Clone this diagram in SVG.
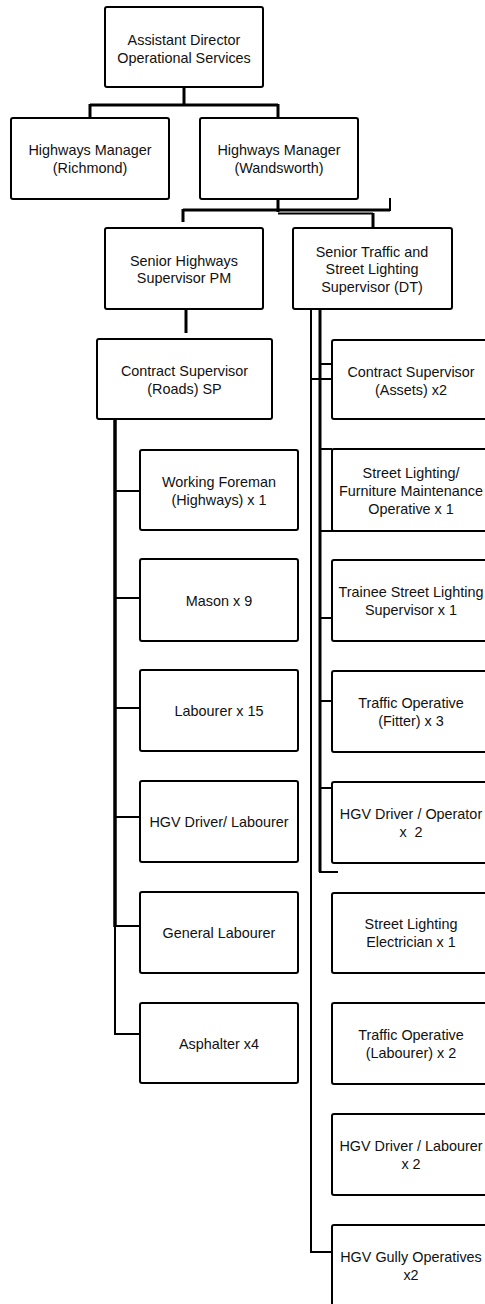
<svg xmlns="http://www.w3.org/2000/svg" width="485" height="1304" viewBox="0 0 485 1304">
<style>
.b{fill:#fff;stroke:#000;stroke-width:2}
.t{font-family:"Liberation Sans",Arial,sans-serif;font-size:14.4px;fill:#111;text-anchor:middle;white-space:pre}
.c{stroke:#000;fill:none;stroke-width:3}
.n{stroke:#000;fill:none;stroke-width:2}
</style>
<rect width="485" height="1304" fill="#fff"/>
<g id="connectors">
<path class="c" d="M184 87V105M90 105H278M90 104V118M278 104V118"/>
<path class="c" d="M278 199V212M183 210H390M183 209V222M373 213V228"/>
<path class="n" d="M390 198V211M278 213.5H373"/>
<path class="c" d="M186 309V333"/>
<path d="M115 419V927" stroke="#000" stroke-width="3.5" fill="none"/>
<path class="n" d="M115 926V1034H140"/>
<path class="n" d="M115 491H140M115 598H140M115 708H140M115 817H140M115 926H140"/>
<path class="n" d="M311 309V1252H332"/>
<path class="c" d="M320 309V872"/>
<path class="n" d="M319 872H338M320 364H332M311 379H332M320 449H332M320 531H334M320 618H332M320 701H332M320 788H332"/>
</g>
<g id="n-ad"><rect class="b" x="105" y="7" width="158" height="80" rx="2"/><text class="t" x="184" y="45">Assistant Director</text><text class="t" x="184" y="63">Operational Services</text></g>
<g id="n-hmr"><rect class="b" x="11" y="118" width="158" height="81" rx="2"/><text class="t" x="90" y="155">Highways Manager</text><text class="t" x="90" y="173">(Richmond)</text></g>
<g id="n-hmw"><rect class="b" x="200" y="118" width="158" height="81" rx="2"/><text class="t" x="279" y="155">Highways Manager</text><text class="t" x="279" y="173">(Wandsworth)</text></g>
<g id="n-shs"><rect class="b" x="105" y="228" width="158" height="81" rx="2"/><text class="t" x="184" y="266">Senior Highways</text><text class="t" x="184" y="283">Supervisor PM</text></g>
<g id="n-sts"><rect class="b" x="293" y="228" width="159" height="81" rx="2"/><text class="t" x="372" y="257">Senior Traffic and</text><text class="t" x="372" y="274">Street Lighting</text><text class="t" x="372" y="292">Supervisor (DT)</text></g>
<g id="n-csr"><rect class="b" x="97" y="339" width="175" height="80" rx="2"/><text class="t" x="184.5" y="376">Contract Supervisor</text><text class="t" x="184.5" y="394">(Roads) SP</text></g>
<g id="n-wf"><rect class="b" x="140" y="450" width="158" height="80" rx="2"/><text class="t" x="219" y="487">Working Foreman</text><text class="t" x="219" y="505">(Highways) x 1</text></g>
<g id="n-mason"><rect class="b" x="140" y="559" width="158" height="82" rx="2"/><text class="t" x="219" y="606">Mason x 9</text></g>
<g id="n-lab"><rect class="b" x="140" y="670" width="158" height="81" rx="2"/><text class="t" x="219" y="716">Labourer x 15</text></g>
<g id="n-hgvl"><rect class="b" x="140" y="781" width="158" height="81" rx="2"/><text class="t" x="219" y="827">HGV Driver/ Labourer</text></g>
<g id="n-gl"><rect class="b" x="140" y="892" width="158" height="81" rx="2"/><text class="t" x="219" y="938">General Labourer</text></g>
<g id="n-asp"><rect class="b" x="140" y="1003" width="158" height="80" rx="2"/><text class="t" x="219" y="1049">Asphalter x4</text></g>
<g id="n-csa"><rect class="b" x="332" y="340" width="158" height="79" rx="2"/><text class="t" x="411" y="377">Contract Supervisor</text><text class="t" x="411" y="395">(Assets) x2</text></g>
<g id="n-slf"><rect class="b" x="332" y="449" width="158" height="82" rx="2"/><text class="t" x="411" y="478">Street Lighting/</text><text class="t" x="411" y="496">Furniture Maintenance</text><text class="t" x="411" y="514">Operative x 1</text></g>
<g id="n-tsl"><rect class="b" x="332" y="560" width="158" height="81" rx="2"/><text class="t" x="411" y="597">Trainee Street Lighting</text><text class="t" x="411" y="615">Supervisor x 1</text></g>
<g id="n-tof"><rect class="b" x="332" y="671" width="158" height="81" rx="2"/><text class="t" x="411" y="708">Traffic Operative</text><text class="t" x="411" y="726">(Fitter) x 3</text></g>
<g id="n-hgvo"><rect class="b" x="332" y="782" width="158" height="81" rx="2"/><text class="t" x="411" y="819">HGV Driver / Operator</text><text class="t" x="411" y="837">x  2</text></g>
<g id="n-sle"><rect class="b" x="332" y="893" width="158" height="80" rx="2"/><text class="t" x="411" y="929">Street Lighting</text><text class="t" x="411" y="947">Electrician x 1</text></g>
<g id="n-tol"><rect class="b" x="332" y="1003" width="158" height="81" rx="2"/><text class="t" x="411" y="1040">Traffic Operative</text><text class="t" x="411" y="1058">(Labourer) x 2</text></g>
<g id="n-hgvlb"><rect class="b" x="332" y="1114" width="158" height="81" rx="2"/><text class="t" x="411" y="1151">HGV Driver / Labourer</text><text class="t" x="411" y="1169">x 2</text></g>
<g id="n-gully"><rect class="b" x="332" y="1225" width="158" height="81" rx="2"/><text class="t" x="411" y="1262">HGV Gully Operatives</text><text class="t" x="411" y="1280">x2</text></g>
</svg>
